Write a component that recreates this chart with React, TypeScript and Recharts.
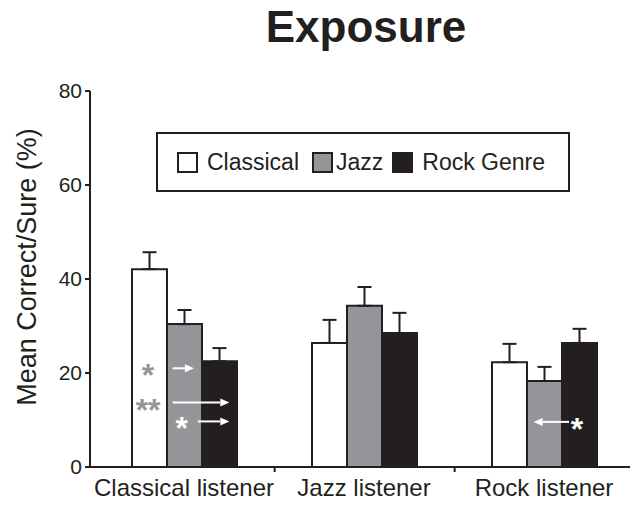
import React from 'react';
import { BarChart, Bar, XAxis, YAxis, ErrorBar, Legend, Label } from 'recharts';

const categories = ['Classical listener', 'Jazz listener', 'Rock listener'];
const classicalGenre = [42.1, 26.4, 22.3];
const jazzGenre = [30.4, 34.3, 18.3];
const rockGenre = [22.5, 28.5, 26.4];
const classicalErr = [3.6, 4.9, 3.9];
const jazzErr = [3.0, 4.0, 3.0];
const rockErr = [2.8, 4.3, 3.0];
const yTicks = [0, 20, 40, 60, 80];
// significance marks, level = y value where the mark sits
const classicalNotes = [
    { mark: '*', level: 21 },
    { mark: '**', level: 13.7 },
    { mark: '*', level: 9.7 },
];
const rockNotes = [{ mark: '*', level: 9.6 }];

const DARK = '#231f20';
const GRAY = '#939598';
const FONT = '"Liberation Sans", Arial, Helvetica, sans-serif';

const data = categories.map((name, i) => ({
    name,
    classical: classicalGenre[i],
    jazz: jazzGenre[i],
    rock: rockGenre[i],
    classicalErr: [0, classicalErr[i]],
    jazzErr: [0, jazzErr[i]],
    rockErr: [0, rockErr[i]],
}));

const Arrow = ({ x1, x2, y }: { x1: number; x2: number; y: number }) => {
    const dir = x2 > x1 ? 1 : -1;
    const base = x2 - dir * 9;
    return (
        <g>
            <line x1={x1} y1={y} x2={base} y2={y} stroke="#fff" strokeWidth={2} />
            <polygon points={`${x2},${y} ${base},${y - 4} ${base},${y + 4}`} fill="#fff" />
        </g>
    );
};

const Star = ({ x, y, text, color }: { x: number; y: number; text: string; color: string }) => (
    <text x={x} y={y + 18} textAnchor="middle" fontFamily={FONT} fontWeight="bold" fontSize={32} fill={color}>
        {text}
    </text>
);

// drawn on the last (black) series so it sits above every bar
const renderNotes = (props: any) => {
    const { x, y, width, height, value, index } = props;
    const bx = Number(x);
    const w = Number(width);
    const bottom = Number(y) + Number(height);
    const per = Number(height) / Number(value);
    const toY = (v: number) => bottom - v * per;
    if (index === 0) {
        const [a, b, c] = classicalNotes;
        return (
            <g>
                <Star x={bx - 1.54 * w} y={toY(a.level)} text={a.mark} color={GRAY} />
                <Arrow x1={bx - 0.84 * w} x2={bx - 0.23 * w} y={toY(a.level)} />
                <Star x={bx - 1.54 * w} y={toY(b.level)} text={b.mark} color={GRAY} />
                <Arrow x1={bx - 0.84 * w} x2={bx + 0.78 * w} y={toY(b.level)} />
                <Star x={bx - 0.58 * w} y={toY(c.level)} text={c.mark} color="#fff" />
                <Arrow x1={bx - 0.12 * w} x2={bx + 0.78 * w} y={toY(c.level)} />
            </g>
        );
    }
    if (index === 2) {
        const a = rockNotes[0];
        return (
            <g>
                <Star x={bx + 0.43 * w} y={toY(a.level)} text={a.mark} color="#fff" />
                <Arrow x1={bx + 0.2 * w} x2={bx - 0.81 * w} y={toY(a.level)} />
            </g>
        );
    }
    return null;
};

// category label plus a tick mark on the boundary to the next category
const CategoryTick = (props: any) => {
    const { x, y, payload, index, visibleTicksCount, width } = props;
    const count = visibleTicksCount || categories.length;
    const band = (Number(width) || 540) / count;
    const axisY = y - 12;
    return (
        <g>
            {index < count - 1 && (
                <line x1={x + band / 2} y1={axisY} x2={x + band / 2} y2={axisY + 5} stroke={DARK} strokeWidth={2} />
            )}
            <text x={x} y={y} dy="0.71em" textAnchor="middle" fontFamily={FONT} fontSize={24} fill={DARK}>
                {payload.value}
            </text>
        </g>
    );
};

const LegendBox = ({ payload }: any) => (
    <div
        style={{
            boxSizing: 'border-box',
            width: 414,
            height: 60,
            border: `2px solid ${DARK}`,
            background: '#fff',
            display: 'flex',
            alignItems: 'center',
            paddingLeft: 19,
            fontFamily: FONT,
            fontSize: 23,
            color: DARK,
        }}
    >
        {(payload || []).map((entry: any, i: number) => (
            <span key={`item-${i}`} style={{ display: 'flex', alignItems: 'center', marginRight: i === 0 ? 13 : 9 }}>
                <span
                    style={{
                        boxSizing: 'border-box',
                        display: 'inline-block',
                        width: 21,
                        height: 21,
                        background: entry.color,
                        border: `2px solid ${DARK}`,
                        marginRight: i === 1 ? 3 : 9,
                    }}
                />
                {entry.value}
            </span>
        ))}
    </div>
);

const YLabel = (props: any) => {
    const { viewBox } = props;
    const cx = viewBox.x + 27;
    const cy = viewBox.y + viewBox.height / 2 - 12;
    return (
        <text x={cx} y={cy} transform={`rotate(-90, ${cx}, ${cy})`} textAnchor="middle" dominantBaseline="central"
            fontFamily={FONT} fontSize={27} fill={DARK}>
            Mean Correct/Sure (%)
        </text>
    );
};

export default function App() {
    return (
        <div style={{ position: 'absolute', left: 0, top: 0, width: 630, height: 509, overflow: 'hidden', background: '#fff' }}>
            <div
                style={{
                    position: 'absolute',
                    left: 0,
                    top: 5,
                    width: 732,
                    textAlign: 'center',
                    fontFamily: FONT,
                    fontWeight: 'bold',
                    fontSize: 44,
                    lineHeight: 1,
                    color: DARK,
                }}
            >
                Exposure
            </div>
            <BarChart
                width={640}
                height={509}
                data={data}
                margin={{ top: 91, right: 6, bottom: 0, left: 0 }}
                barCategoryGap={38}
                barGap={0}
            >
                <XAxis
                    dataKey="name"
                    tickLine={false}
                    tickSize={0}
                    tickMargin={12}
                    axisLine={{ stroke: DARK, strokeWidth: 2 }}
                    tick={<CategoryTick />}
                    height={42}
                    interval={0}
                    padding={{ left: 4, right: 0 }}
                />
                <YAxis
                    width={90}
                    domain={[0, 80]}
                    ticks={yTicks}
                    axisLine={{ stroke: DARK, strokeWidth: 2 }}
                    tickLine={{ stroke: DARK, strokeWidth: 2 }}
                    tickSize={5}
                    tickMargin={3}
                    tick={{ fill: DARK, fontSize: 21, fontFamily: FONT }}
                >
                    <Label content={<YLabel />} />
                </YAxis>
                <Legend
                    layout="horizontal"
                    verticalAlign="middle"
                    align="center"
                    content={<LegendBox />}
                    wrapperStyle={{ left: 156, top: 132, width: 414, height: 60 }}
                />
                <Bar dataKey="classical" name="Classical" fill="#ffffff" stroke={DARK} strokeWidth={2} isAnimationActive={false}>
                    <ErrorBar dataKey="classicalErr" width={7} stroke={DARK} strokeWidth={2} direction="y" />
                </Bar>
                <Bar dataKey="jazz" name="Jazz" fill={GRAY} stroke={DARK} strokeWidth={2} isAnimationActive={false}>
                    <ErrorBar dataKey="jazzErr" width={7} stroke={DARK} strokeWidth={2} direction="y" />
                </Bar>
                <Bar dataKey="rock" name="Rock Genre" fill={DARK} stroke={DARK} strokeWidth={2} isAnimationActive={false} label={renderNotes}>
                    <ErrorBar dataKey="rockErr" width={7} stroke={DARK} strokeWidth={2} direction="y" />
                </Bar>
            </BarChart>
        </div>
    );
}
